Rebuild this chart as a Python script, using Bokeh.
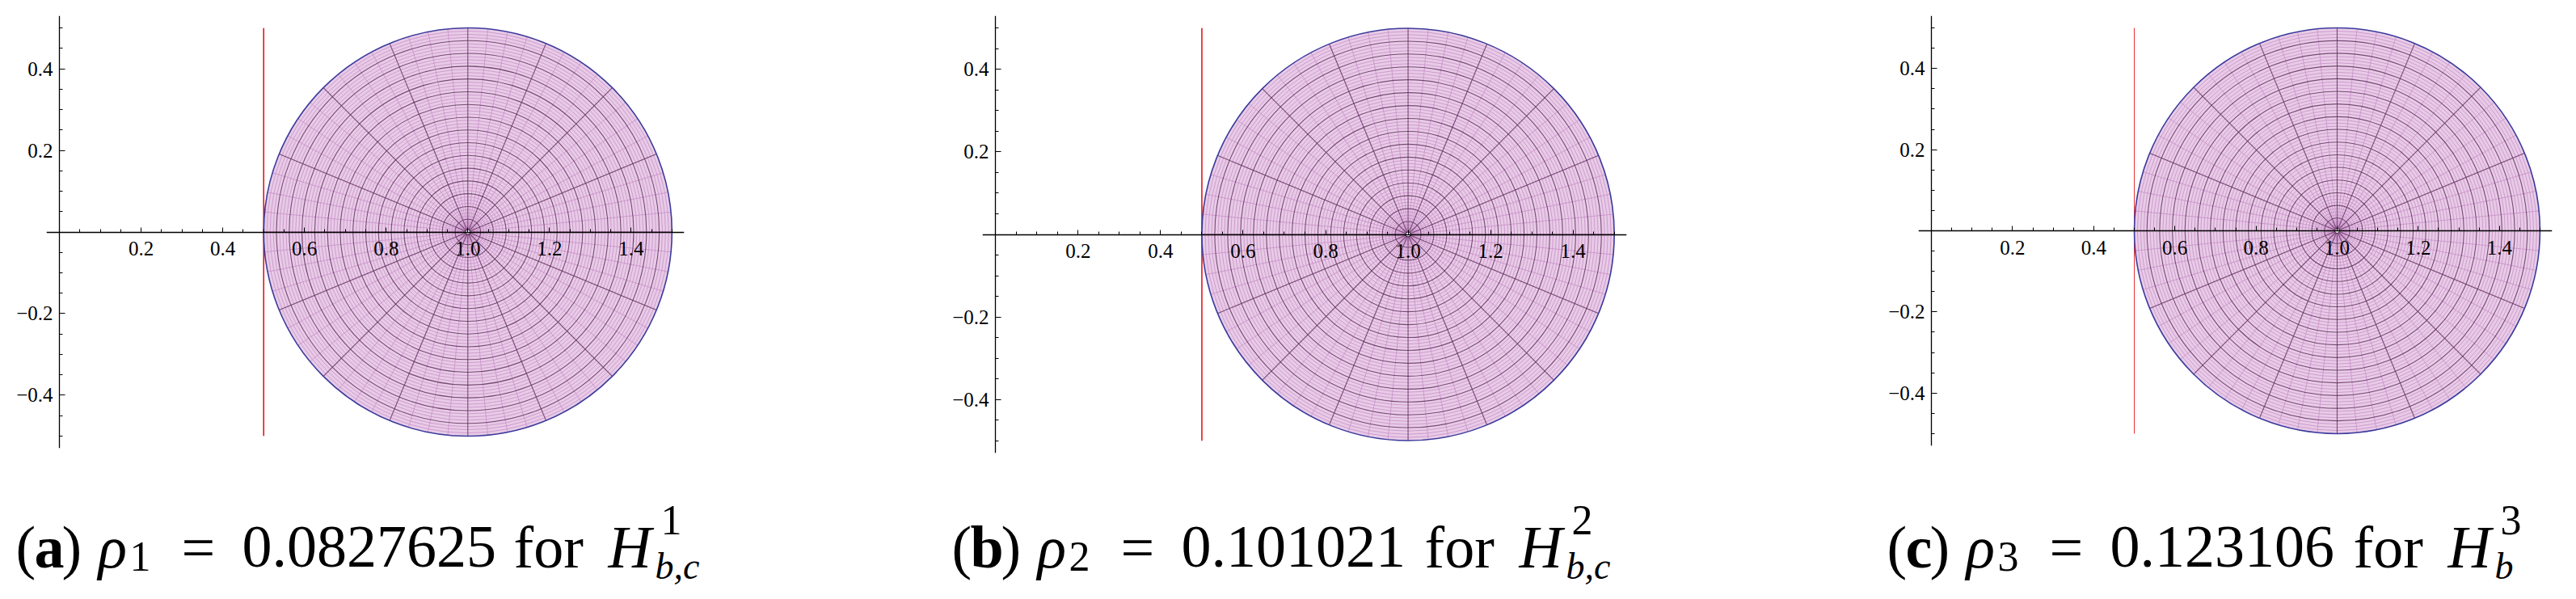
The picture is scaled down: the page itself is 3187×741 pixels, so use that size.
import numpy as np
from bokeh.plotting import figure
from bokeh.layouts import row, column
from bokeh.models import (FixedTicker, CustomJSTickFormatter, Range1d,
                          ColumnDataSource, LinearAxis)
from bokeh.core.properties import value
from bokeh.embed import file_html
from bokeh.resources import INLINE

# ---- data ----
panel_letters = ["a", "b", "c"]
rho_index = ["1", "2", "3"]
rho_values = ["0.0827625", "0.101021", "0.123106"]
h_sup = ["1", "2", "3"]
h_sub = ["b,c", "b,c", "b"]

disk_cx = [1.0, 1.0, 1.0]
disk_cy = [0.0, 0.0, 0.0]
disk_r = [0.5, 0.5, 0.5]

bound_x = [0.5, 0.5, 0.5]
bound_y0 = [-0.5, -0.5, -0.5]
bound_y1 = [0.5, 0.5, 0.5]

x_ticks = [0.2, 0.4, 0.6, 0.8, 1.0, 1.2, 1.4]
y_ticks = [-0.4, -0.2, 0.2, 0.4]
x_minor = [round(0.05 * i, 2) for i in range(1, 31)]
y_minor = [round(0.05 * i, 2) for i in range(-10, 11) if i != 0]

# ---- layout / style ----
FONT = "Liberation Serif"
X_RANGE = (-0.032, 1.53)
Y_RANGE = (-0.53, 0.53)
px_per_unit = [505, 510, 502]
border_left = [57, 184, 181]
border_right = [185, 180, 14]
border_top = [16, 13, 19]
ROW_H = 590
TOTAL_H = 725
red_width = [1.6, 1.6, 0.9]

FILL = "#e8cbe7"
LIGHT = "#c98fc9"
DARK = "#643360"
EDGE = "#3b3b9c"

fmt = CustomJSTickFormatter(code="""
if (Math.abs(tick) < 1e-9) { return ""; }
return tick.toFixed(1).replace("-", "\u2212");
""")
blank = CustomJSTickFormatter(code='return "";')


def make_panel(i):
    s = px_per_unit[i]
    fw = round((X_RANGE[1] - X_RANGE[0]) * s)
    fh = round((Y_RANGE[1] - Y_RANGE[0]) * s)
    p = figure(frame_width=fw, frame_height=fh,
               x_range=Range1d(*X_RANGE), y_range=Range1d(*Y_RANGE),
               min_border_left=border_left[i], min_border_right=border_right[i],
               min_border_top=border_top[i], min_border_bottom=ROW_H - border_top[i] - fh,
               output_backend="svg", toolbar_location=None, title=None)
    p.grid.visible = False
    p.outline_line_color = None
    p.background_fill_color = "white"
    p.border_fill_color = "white"

    cx, cy, r = disk_cx[i], disk_cy[i], disk_r[i]

    # vertical boundary line
    p.segment(x0=[bound_x[i]], y0=[bound_y0[i]], x1=[bound_x[i]], y1=[bound_y1[i]],
              line_color="#e3161b", line_width=red_width[i])

    # disk
    p.circle(x=[cx], y=[cy], radius=r, fill_color=FILL, line_color=None)

    # fine (polygon) lines
    light_r = [r * k / 64 for k in range(1, 64) if k % 4]
    p.circle(x=[cx] * len(light_r), y=[cy] * len(light_r), radius=light_r,
             fill_color=None, line_color=LIGHT, line_width=0.9, line_alpha=0.9)
    light_a = [2 * np.pi * k / 64 for k in range(64) if k % 4]
    p.segment(x0=[cx] * len(light_a), y0=[cy] * len(light_a),
              x1=[cx + r * np.cos(a) for a in light_a], y1=[cy + r * np.sin(a) for a in light_a],
              line_color=LIGHT, line_width=0.9, line_alpha=0.9)

    # mesh lines
    dark_r = [r * k / 16 for k in range(1, 16)]
    p.circle(x=[cx] * len(dark_r), y=[cy] * len(dark_r), radius=dark_r,
             fill_color=None, line_color=DARK, line_width=1.1, line_alpha=0.85)
    dark_a = [2 * np.pi * k / 16 for k in range(16)]
    p.segment(x0=[cx] * len(dark_a), y0=[cy] * len(dark_a),
              x1=[cx + r * np.cos(a) for a in dark_a], y1=[cy + r * np.sin(a) for a in dark_a],
              line_color=DARK, line_width=1.1, line_alpha=0.85)

    # outline of the disk and the centre hole
    p.circle(x=[cx], y=[cy], radius=r, fill_color=None, line_color=EDGE, line_width=1.6)
    p.scatter(x=[cx], y=[cy], size=6, fill_color="white", line_color="#3a1a40", line_width=1)

    # x axis through the origin
    xa = p.xaxis[0]
    xa.fixed_location = 0
    xa.axis_label = None
    xa.ticker = FixedTicker(ticks=x_ticks, minor_ticks=x_minor)
    xa.formatter = fmt
    xa.major_tick_in = 6
    xa.minor_tick_in = 4
    xa.major_label_standoff = 12

    # y axis line and ticks through the origin (labels come from a second axis)
    ya = p.yaxis[0]
    ya.fixed_location = 0
    ya.axis_label = None
    ya.ticker = FixedTicker(ticks=y_ticks, minor_ticks=y_minor)
    ya.formatter = blank
    ya.major_tick_in = 7
    ya.minor_tick_in = 4
    ya.major_label_standoff = 0

    ylab = LinearAxis(ticker=FixedTicker(ticks=y_ticks, minor_ticks=[]), formatter=fmt,
                      axis_line_color=None, major_tick_line_color=None,
                      minor_tick_line_color=None, major_tick_in=0, major_tick_out=0,
                      minor_tick_in=0, minor_tick_out=0, major_label_standoff=-8)
    p.add_layout(ylab, "left")

    for ax in (xa, ya, ylab):
        ax.axis_line_width = 1.3
        ax.major_tick_out = 0
        ax.minor_tick_out = 0
        ax.major_label_text_font = FONT
        ax.major_label_text_font_size = "25px"
        ax.major_label_text_color = "black"
    for ax in (xa, ya):
        ax.axis_line_color = "black"
        ax.major_tick_line_color = "black"
        ax.minor_tick_line_color = "black"
    return p


panels = [make_panel(i) for i in range(3)]

# ---- captions (x in page pixels, y as page pixels from the top) ----
CAP_W, CAP_H = 3171, TOTAL_H - ROW_H
CAP_TOP = 8 + ROW_H
BIG, SUP, SUB = "74px", "52px", "46px"
base_py, sub_py, sub2_py, sup_py = 684, 696, 708, 651
cap_start = [27, 1185, 2342]
off_letter = [23, 23, 23]
off_close = [57, 61, 53]
off_rho = [102, 106, 98]
off_rhoi = [141, 145, 137]
off_eq = [205, 209, 201]
off_num = [280, 284, 276]
off_for = [616, 585, 577]
off_h = [733, 702, 694]
off_sup = [798, 767, 759]
off_sub = [791, 760, 752]

cap = dict(x=[], y=[], text=[], size=[], style=[])


def piece(px, py, t, size, style):
    cap["x"].append(px - 8)
    cap["y"].append(CAP_TOP + CAP_H - py)
    cap["text"].append(t)
    cap["size"].append(size)
    cap["style"].append(style)


for i in range(3):
    x0 = cap_start[i]
    piece(x0, base_py, "(", BIG, "normal")
    piece(x0 + off_letter[i], base_py, panel_letters[i], BIG, "bold")
    piece(x0 + off_close[i], base_py, ")", BIG, "normal")
    piece(x0 + off_rho[i], base_py, "\u03c1", BIG, "italic")
    piece(x0 + off_rhoi[i], sub_py, rho_index[i], SUP, "normal")
    piece(x0 + off_eq[i], base_py, "=", BIG, "normal")
    piece(x0 + off_num[i], base_py, rho_values[i], BIG, "normal")
    piece(x0 + off_for[i], base_py, "for", BIG, "normal")
    piece(x0 + off_h[i], base_py, "H", BIG, "italic")
    piece(x0 + off_sup[i], sup_py, h_sup[i], SUP, "normal")
    piece(x0 + off_sub[i], sub2_py, h_sub[i], SUB, "italic")

cp = figure(frame_width=CAP_W, frame_height=CAP_H, x_range=Range1d(0, CAP_W), y_range=Range1d(0, CAP_H),
            min_border=0, output_backend="svg", toolbar_location=None, title=None)
cp.axis.visible = False
cp.grid.visible = False
cp.outline_line_color = None
cp.text(x="x", y="y", text="text", source=ColumnDataSource(cap),
        text_font=value(FONT), text_font_size="size", text_font_style="style",
        text_color="black", text_align="left", text_baseline="alphabetic")

layout = column(row(*panels), cp)
open("out.html", "w").write(file_html(layout, INLINE))
